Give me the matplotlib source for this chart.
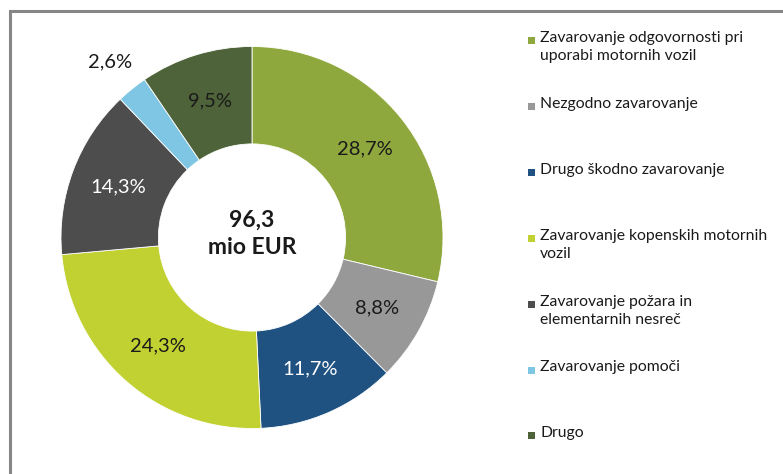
import matplotlib
matplotlib.use("Agg")
import matplotlib.pyplot as plt
from matplotlib.patches import Rectangle
import numpy as np

categories = [
    "Zavarovanje odgovornosti pri\nuporabi motornih vozil",
    "Nezgodno zavarovanje",
    "Drugo škodno zavarovanje",
    "Zavarovanje kopenskih motornih\nvozil",
    "Zavarovanje požara in\nelementarnih nesreč",
    "Zavarovanje pomoči",
    "Drugo",
]
values = [28.7, 8.8, 11.7, 24.3, 14.3, 2.6, 9.5]
value_labels = ["28,7%", "8,8%", "11,7%", "24,3%", "14,3%", "2,6%", "9,5%"]
total_label = "96,3\nmio EUR"

colors = ["#8FA83E", "#989898", "#1F5281", "#C1D132", "#4D4D4D", "#7EC6E3", "#4E6339"]
label_colors = ["#1a1a1a", "#1a1a1a", "white", "#1a1a1a", "white", "#1a1a1a", "#1a1a1a"]
label_radius = [0.75, 0.75, 0.75, 0.75, 0.75, 1.18, 0.75]

plt.rcParams['font.family'] = ['Lato', 'DejaVu Sans']

W, H = 783, 474
fig = plt.figure(figsize=(W / 100, H / 100), dpi=100)

# border frame (cropped on right & bottom)
fig.patches.append(Rectangle((9.5 / W, -0.1), 1.2, (H - 11.5) / H + 0.1,
                             transform=fig.transFigure, fill=False,
                             edgecolor="#868686", linewidth=2.2))

cx, cy, r = 252, 474 - 237.5, 191
ax = fig.add_axes([(cx - r) / W, (cy - r) / H, 2 * r / W, 2 * r / H])
wedges, _ = ax.pie(values, colors=colors, startangle=90, counterclock=False,
                   radius=1.0, wedgeprops=dict(width=0.51, edgecolor="white", linewidth=0.6))
ax.set_xlim(-1, 1)
ax.set_ylim(-1, 1)
ax.set_aspect("equal")
ax.axis("off")

for w, lab, col, rr in zip(wedges, value_labels, label_colors, label_radius):
    ang = np.deg2rad((w.theta1 + w.theta2) / 2)
    ax.text(rr * np.cos(ang), rr * np.sin(ang), lab, ha="center", va="center",
            fontsize=14.5, color=col, clip_on=False)

ax.text(0, 0.02, total_label, ha="center", va="center", fontsize=16.5,
        fontweight="bold", color="#1a1a1a", linespacing=1.4)

# legend
y0, dy = 40.5, 65.9
for i, (cat, col) in enumerate(zip(categories, colors)):
    ym = y0 + dy * i
    fig.patches.append(Rectangle((528 / W, (H - ym - 3.5) / H), 7 / W, 7 / H,
                                 transform=fig.transFigure, facecolor=col, edgecolor="none"))
    fig.text(540 / W, (H - ym + 9.5) / H, cat, ha="left", va="top", fontsize=11.3,
             color="#1a1a1a", linespacing=1.4)

fig.savefig("out.png", dpi=100)
